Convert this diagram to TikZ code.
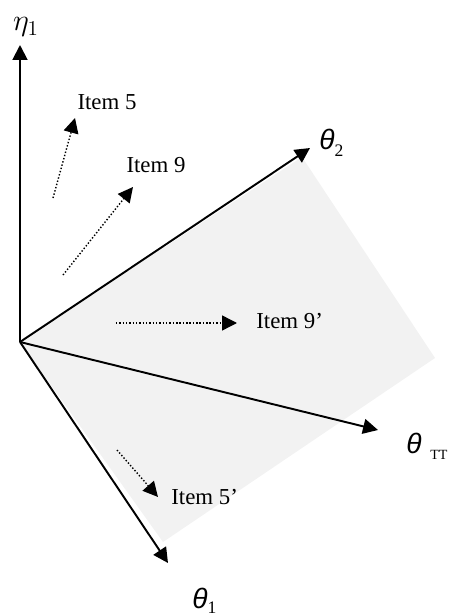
\documentclass[tikz,border=0pt]{standalone}
\usepackage{fontspec}
\setmainfont{Liberation Serif}
\newfontfamily\thetafont{Liberation Sans}
\usetikzlibrary{arrows.meta}
\definecolor{planegray}{HTML}{F2F2F2}

\begin{document}
\begin{tikzpicture}[
  >={Triangle[length=8.5pt,width=8.5pt]},
  axisarrow/.style={->, line width=1.1pt},
  itemarrow/.style={->, line width=0.8pt, dash pattern=on 0.8pt off 1.1pt},
  itemlabel/.style={font=\fontsize{13}{15}\selectfont, inner sep=0pt},
  axislabel/.style={inner sep=0pt, anchor=base west}
]
  \useasboundingbox (-0.40,-5.48) rectangle (8.72,6.84);

  % Shaded plane
  \fill[planegray] (0,0) -- (5.64,3.70) -- (8.30,-0.32) -- (2.86,-4.00) -- cycle;

  % Axis end points
  \coordinate (o) at (0,0);
  \coordinate (etatip) at (0,5.94);
  \coordinate (t2tip) at (5.80,3.88);
  \coordinate (tttip) at (7.16,-1.76);
  \coordinate (t1tip) at (2.96,-4.42);

  \draw[axisarrow] (o) -- (etatip);
  \draw[axisarrow] (o) -- (t2tip);
  \draw[axisarrow] (o) -- (tttip);
  \draw[axisarrow] (o) -- (t1tip);

  % Axis labels
  \node[inner sep=0pt] (eta) at (0.12,6.30) {\fontsize{18}{20}\selectfont$\eta_1$};
  \node[axislabel] (th2) at (5.98,3.86)
    {{\fontsize{16}{18}\selectfont\thetafont\itshape θ}\raisebox{-4pt}{\fontsize{10}{11}\selectfont 2}};
  \node[axislabel] (thtt) at (7.72,-2.22)
    {{\fontsize{16}{18}\selectfont\thetafont\itshape θ}\hspace{5pt}\raisebox{-3.5pt}{\fontsize{8}{9}\selectfont TT}};
  \node[axislabel] (th1) at (3.44,-5.32)
    {{\fontsize{16}{18}\selectfont\thetafont\itshape θ}\raisebox{-3pt}{\fontsize{10}{11}\selectfont 1}};

  % Item shifts
  \coordinate (i5a) at (0.66,2.88);
  \coordinate (i5b) at (1.10,4.48);
  \coordinate (i9a) at (0.86,1.34);
  \coordinate (i9b) at (2.26,3.10);
  \coordinate (i9pa) at (1.92,0.38);
  \coordinate (i9pb) at (4.34,0.38);
  \coordinate (i5pa) at (1.94,-2.16);
  \coordinate (i5pb) at (2.76,-3.10);

  \draw[itemarrow] (i5a) -- (i5b);
  \draw[itemarrow] (i9a) -- (i9b);
  \draw[itemarrow] (i9pa) -- (i9pb);
  \draw[itemarrow] (i5pa) -- (i5pb);

  \node[itemlabel] (item5) at (1.74,4.80) {Item 5};
  \node[itemlabel] (item9) at (2.72,3.54) {Item 9};
  \node[itemlabel, anchor=west] (item9p) at (4.72,0.42) {Item 9’};
  \node[itemlabel, anchor=west] (item5p) at (3.02,-3.10) {Item 5’};

\end{tikzpicture}
\end{document}
